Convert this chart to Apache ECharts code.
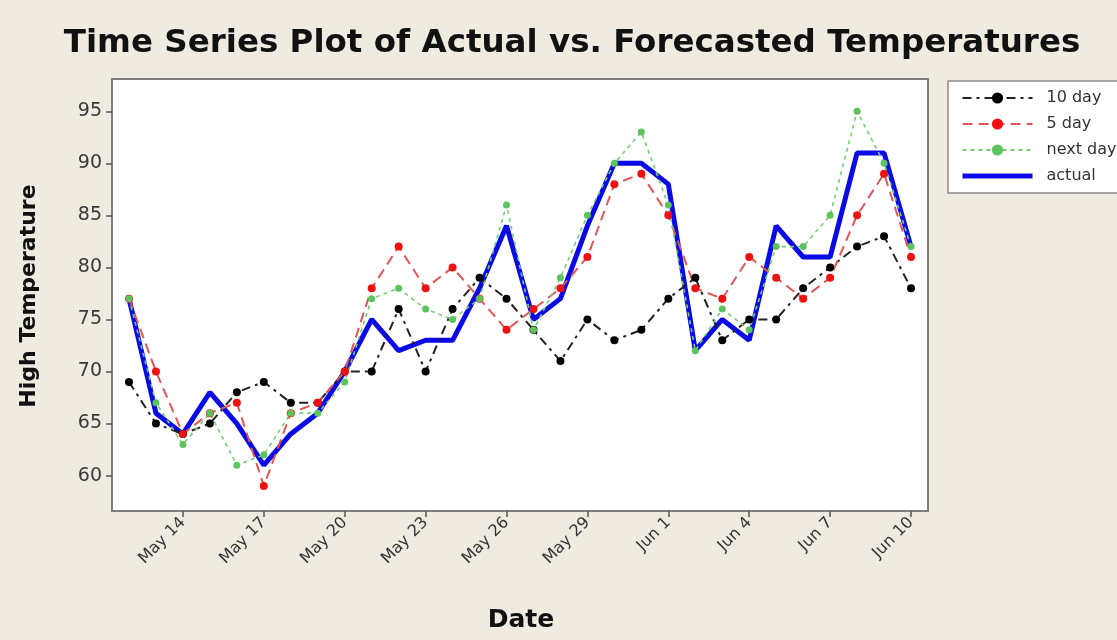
<!DOCTYPE html>
<html>
<head>
<meta charset="utf-8">
<script src="https://cdn.jsdelivr.net/npm/echarts@6/dist/echarts.min.js"></script>
<style>
html,body{margin:0;padding:0;background:#efebe1;}
#c{width:1117px;height:640px;}
</style>
</head>
<body>
<div id="c"></div>
<script>
const dates = ['May 12','May 13','May 14','May 15','May 16','May 17','May 18','May 19','May 20','May 21',
  'May 22','May 23','May 24','May 25','May 26','May 27','May 28','May 29','May 30','May 31',
  'Jun 1','Jun 2','Jun 3','Jun 4','Jun 5','Jun 6','Jun 7','Jun 8','Jun 9','Jun 10'];
const tickLabels = ['May 14','May 17','May 20','May 23','May 26','May 29','Jun 1','Jun 4','Jun 7','Jun 10'];
const yTicks = [60, 65, 70, 75, 80, 85, 90, 95];
const tenDay  = [69, 65, 64, 65, 68, 69, 67, 67, 70, 70, 76, 70, 76, 79, 77, 74, 71, 75, 73, 74, 77, 79, 73, 75, 75, 78, 80, 82, 83, 78];
const fiveDay = [77, 70, 64, 66, 67, 59, 66, 67, 70, 78, 82, 78, 80, 77, 74, 76, 78, 81, 88, 89, 85, 78, 77, 81, 79, 77, 79, 85, 89, 81];
const nextDay = [77, 67, 63, 66, 61, 62, 66, 66, 69, 77, 78, 76, 75, 77, 86, 74, 79, 85, 90, 93, 86, 72, 76, 74, 82, 82, 85, 95, 90, 82];
const actual  = [77, 66, 64, 68, 65, 61, 64, 66, 70, 75, 72, 73, 73, 78, 84, 75, 77, 84, 90, 90, 88, 72, 75, 73, 84, 81, 81, 91, 91, 82];

const pairs = arr => arr.map((v, i) => [i, v]);
const tickIdx = tickLabels.map(t => dates.indexOf(t));

const chart = echarts.init(document.getElementById('c'));
chart.setOption({
  backgroundColor: '#efebe1',
  animation: false,
  textStyle: {fontFamily: 'DejaVu Sans'},
  grid: {left: 112, top: 79, width: 816, height: 432, show: true,
         backgroundColor: '#ffffff', borderColor: '#7d7d7d', borderWidth: 2, containLabel: false},
  xAxis: {
    type: 'value', min: -0.63, max: 29.63,
    axisLine: {show: false, onZero: false}, splitLine: {show: false},
    axisTick: {show: true, customValues: tickIdx, length: 6, lineStyle: {color: '#555', width: 1.5}},
    axisLabel: {customValues: tickIdx, rotate: 45, fontSize: 16, color: '#333', margin: 9,
                formatter: v => dates[Math.round(v)]}
  },
  yAxis: {
    type: 'value', min: 56.6, max: 98.1,
    axisLine: {show: false, onZero: false}, splitLine: {show: false},
    axisTick: {show: true, customValues: yTicks, length: 6, lineStyle: {color: '#555', width: 1.5}},
    axisLabel: {customValues: yTicks, fontSize: 19, color: '#3a3a3a', margin: 10}
  },
  legend: {
    orient: 'vertical', left: 948, top: 81,
    backgroundColor: '#ffffff', borderColor: '#8a8a8a', borderWidth: 1.5,
    padding: [9, 40, 9, 12], itemGap: 10, itemWidth: 70, itemHeight: 14,
    textStyle: {fontSize: 16, color: '#333', padding: [0, 0, 0, 9]},
    data: ['10 day', '5 day', 'next day',
      {name: 'actual', itemStyle: {opacity: 0}, lineStyle: {width: 5}}]
  },
  graphic: [
    {type: 'text', x: 572, y: 44, style: {text: 'Time Series Plot of Actual vs. Forecasted Temperatures',
      font: 'bold 32.5px "DejaVu Sans"', fill: '#111', textAlign: 'center', textVerticalAlign: 'middle'}},
    {type: 'text', x: 29, y: 296, rotation: Math.PI / 2, style: {text: 'High Temperature',
      font: 'bold 22px "DejaVu Sans"', fill: '#111', textAlign: 'center', textVerticalAlign: 'middle'}},
    {type: 'text', x: 521, y: 620, style: {text: 'Date',
      font: 'bold 25px "DejaVu Sans"', fill: '#111', textAlign: 'center', textVerticalAlign: 'middle'}}
  ],
  series: [
    {name: 'actual', type: 'line', data: pairs(actual), z: 1, showSymbol: false, symbol: 'none',
     lineStyle: {color: '#0a0ae6', width: 5}, itemStyle: {color: '#0a0ae6'}},
    {name: '10 day', type: 'line', data: pairs(tenDay), z: 3, symbol: 'circle', symbolSize: 8,
     lineStyle: {color: '#222', width: 2, type: [9, 5, 3, 5]}, itemStyle: {color: '#000'}},
    {name: '5 day', type: 'line', data: pairs(fiveDay), z: 3, symbol: 'circle', symbolSize: 8,
     lineStyle: {color: '#e05555', width: 2, type: [10, 6]}, itemStyle: {color: '#ee1111'}},
    {name: 'next day', type: 'line', data: pairs(nextDay), z: 3, symbol: 'circle', symbolSize: 7,
     lineStyle: {color: '#77cc77', width: 1.6, type: [4, 4]}, itemStyle: {color: '#5cc45c'}}
  ]
});
</script>
</body>
</html>
